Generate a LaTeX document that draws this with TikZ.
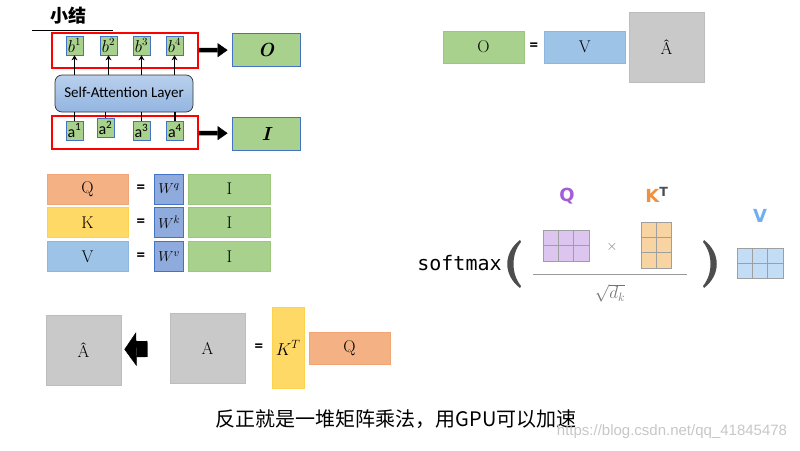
\documentclass[tikz,border=0pt]{standalone}
\usepackage{amsmath,amssymb}
\usepackage{fontspec}
\usepackage{xcolor}
\usepackage{tikz}
\usetikzlibrary{positioning,arrows.meta,calc}

\newfontfamily\cjkfont{Noto Sans CJK SC}
\newfontfamily\calibrifont{Carlito}
\newfontfamily\codefont{DejaVu Sans Mono}
\newfontfamily\labelfont{DejaVu Sans}
\newfontfamily\arialfont{Liberation Sans}

\definecolor{boxgreen}{HTML}{A9D18E}
\definecolor{edgegreen}{HTML}{9CC87E}
\definecolor{boxblue}{HTML}{9DC3E6}
\definecolor{edgeblue}{HTML}{8EB6E2}
\definecolor{boxgray}{HTML}{C9C9C9}
\definecolor{edgegray}{HTML}{BDBDBD}
\definecolor{boxorange}{HTML}{F4B183}
\definecolor{edgeorange}{HTML}{F2A475}
\definecolor{boxyellow}{HTML}{FFD966}
\definecolor{edgeyellow}{HTML}{FFD24D}
\definecolor{boxw}{HTML}{8FAADC}
\definecolor{msblue}{HTML}{4472C4}
\definecolor{layertop}{HTML}{B9D0EC}
\definecolor{layerbot}{HTML}{93B5E1}
\definecolor{matpurple}{HTML}{DCC6F0}
\definecolor{matorange}{HTML}{F8D4A2}
\definecolor{matblue}{HTML}{C3DDF7}
\definecolor{labpurple}{HTML}{A35DD6}
\definecolor{laborange}{HTML}{EE9140}
\definecolor{labblue}{HTML}{6FAEF0}
\definecolor{parengray}{HTML}{4D4D4D}

\begin{document}
\begin{tikzpicture}[x=1pt, y=-1pt,
    smallbox/.style={rectangle, draw=msblue, fill=boxgreen, line width=0.6pt, minimum width=17pt, minimum height=19pt, inner sep=0pt},
    redframe/.style={rectangle, draw=red, line width=1.6pt, minimum width=146pt, inner sep=0pt},
    layer/.style={rectangle, rounded corners=7pt, draw=black!80, line width=0.7pt, top color=layertop, bottom color=layerbot, minimum width=138pt, minimum height=37pt, font=\calibrifont\fontsize{15}{15}\selectfont},
    matbox/.style={rectangle, line width=0.8pt, inner sep=0pt, font=\fontsize{17}{17}\selectfont},
    greenbox/.style={matbox, draw=edgegreen, fill=boxgreen},
    bluebox/.style={matbox, draw=edgeblue, fill=boxblue},
    graybox/.style={matbox, draw=edgegray, fill=boxgray, minimum width=75pt, minimum height=70pt},
    orangebox/.style={matbox, draw=edgeorange, fill=boxorange},
    yellowbox/.style={matbox, draw=edgeyellow, fill=boxyellow},
    wbox/.style={matbox, draw=msblue, fill=boxw, minimum width=29pt, minimum height=30pt, font=\fontsize{15}{15}\selectfont},
    eqsign/.style={inner sep=0pt, font=\calibrifont\bfseries\fontsize{17}{17}\selectfont},
    grid/.style={rectangle, draw=gray!75, line width=0.7pt, inner sep=0pt},
    gridline/.style={draw=gray!75, line width=0.7pt},
    arrow/.style={-{Stealth[length=5pt,width=6pt]}, line width=1.3pt},
    link/.style={line width=1.3pt},
    bigarrow/.style={-{Triangle[length=10pt,width=14pt,line width=0.5pt]}, line width=4.5pt, shorten >=4pt},
    blockarrow/.style={-{Triangle[length=12pt,width=34pt,line width=0.5pt]}, line width=16pt, shorten <=22pt, shorten >=3pt}
]
    \useasboundingbox (0,0) rectangle (800,450);

    % Summary
    \node[font=\cjkfont\bfseries\fontsize{18}{18}\selectfont] (title) at (68,16) {小结};
    \draw[line width=1pt] (32,30) -- (113,30);

    % Outputs b
    \node[redframe, minimum height=35pt] (outframe) at (125,50.5) {};
    \node[smallbox, font=\fontsize{16}{16}\selectfont] (b1) at (74.5,45.5) {$b^1$};
    \node[smallbox, font=\fontsize{16}{16}\selectfont] (b2) at (108.5,45.5) {$b^2$};
    \node[smallbox, font=\fontsize{16}{16}\selectfont] (b3) at (141.5,45.5) {$b^3$};
    \node[smallbox, font=\fontsize{16}{16}\selectfont] (b4) at (174.5,45.5) {$b^4$};

    % Layer
    \node[layer] (layer) at (124,93.5) {Self-Attention Layer};

    % Inputs a
    \node[redframe, minimum height=33pt] (inframe) at (125,132.5) {};
    \node[smallbox, font=\calibrifont\fontsize{16}{16}\selectfont] (a1) at (74.5,130.5) {a\textsuperscript{1}};
    \node[smallbox, font=\calibrifont\fontsize{16}{16}\selectfont] (a2) at (105.5,128) {a\textsuperscript{2}};
    \node[smallbox, font=\calibrifont\fontsize{16}{16}\selectfont] (a3) at (141.5,131) {a\textsuperscript{3}};
    \node[smallbox, font=\calibrifont\fontsize{16}{16}\selectfont] (a4) at (175,131) {a\textsuperscript{4}};

    % O and I
    \node[greenbox, draw=msblue, minimum width=68pt, minimum height=33pt, font=\bfseries\itshape\fontsize{19}{19}\selectfont] (obig) at (266,50) {O};
    \node[greenbox, draw=msblue, minimum width=68pt, minimum height=33pt, font=\bfseries\itshape\fontsize{19}{19}\selectfont] (ibig) at (266,133.5) {I};

    % Arrows
    \draw[arrow] (layer.north -| b1) -- (b1);
    \draw[arrow] (layer.north -| b2) -- (b2);
    \draw[arrow] (layer.north -| b3) -- (b3);
    \draw[arrow] (layer.north -| b4) -- (b4);
    \draw[link] (a1) -- (layer.south -| a1);
    \draw[link] (a2) -- (layer.south -| a2);
    \draw[link] (a3) -- (layer.south -| a3);
    \draw[link] (a4) -- (layer.south -| a4);
    \draw[bigarrow] (outframe) -- (obig);
    \draw[bigarrow] (inframe) -- (ibig);

    % O = V Ahat
    \node[greenbox, minimum width=81pt, minimum height=32pt] (otop) at (483.5,47) {O};
    \node[eqsign, right=5pt of otop] (eqtop) {=};
    \node[bluebox, minimum width=81pt, minimum height=32pt, right=5.5pt of eqtop] (vtop) {V};
    \node[graybox, right=3pt of vtop] (ahattop) {Â};

    % Q K V
    \node[orangebox, minimum width=81pt, minimum height=30pt] (q) at (87.5,189) {Q};
    \node[eqsign, right=8pt of q] (eqq) {=};
    \node[wbox, right=9pt of eqq] (wq) {$W^q$};
    \node[greenbox, minimum width=82pt, minimum height=30pt, right=4pt of wq] (iq) {I};

    \node[yellowbox, minimum width=81pt, minimum height=30pt] (k) at (87.5,222.5) {K};
    \node[eqsign, right=8pt of k] (eqk) {=};
    \node[wbox, right=9pt of eqk] (wk) {$W^k$};
    \node[greenbox, minimum width=82pt, minimum height=30pt, right=4pt of wk] (ik) {I};

    \node[bluebox, minimum width=81pt, minimum height=30pt] (v) at (87.5,256.5) {V};
    \node[eqsign, right=8pt of v] (eqv) {=};
    \node[wbox, right=9pt of eqv] (wv) {$W^v$};
    \node[greenbox, minimum width=82pt, minimum height=30pt, right=4pt of wv] (iv) {I};

    % softmax
    \node[font=\codefont\fontsize{20}{20}\selectfont] (softmax) at (459.5,263) {softmax};
    \fill[parengray] (520,240) .. controls (503,253) and (503,275) .. (520,288)
        -- (521,286) .. controls (511,274) and (511,254) .. (521,242) -- cycle;
    \fill[parengray] (704,240) .. controls (721,253) and (721,275) .. (704,288)
        -- (703,286) .. controls (713,274) and (713,254) .. (703,242) -- cycle;

    \node[grid, fill=matpurple, minimum width=46pt, minimum height=31pt] (qmat) at (566,245.5) {};
    \draw[gridline] ($(qmat.north west)!1/3!(qmat.north east)$) -- ($(qmat.south west)!1/3!(qmat.south east)$);
    \draw[gridline] ($(qmat.north west)!2/3!(qmat.north east)$) -- ($(qmat.south west)!2/3!(qmat.south east)$);
    \draw[gridline] (qmat.west) -- (qmat.east);
    \node[font=\labelfont\bfseries\fontsize{18}{18}\selectfont, text=labpurple] (qlab) at (567,196) {Q};

    \node[text=gray, font=\fontsize{14}{14}\selectfont] (times) at (612,247) {$\times$};

    \node[grid, fill=matorange, minimum width=30pt, minimum height=46pt] (ktmat) at (656,245) {};
    \draw[gridline] (ktmat.north) -- (ktmat.south);
    \draw[gridline] ($(ktmat.north west)!1/3!(ktmat.south west)$) -- ($(ktmat.north east)!1/3!(ktmat.south east)$);
    \draw[gridline] ($(ktmat.north west)!2/3!(ktmat.south west)$) -- ($(ktmat.north east)!2/3!(ktmat.south east)$);
    \node[font=\labelfont\bfseries\fontsize{18}{18}\selectfont, text=laborange] (ktlab) at (657,195) {K\textsuperscript{\textcolor{parengray}{T}}};

    \draw[gray!80, line width=0.9pt] (533,274) -- (687,274);
    \node[text=gray!90!black, font=\fontsize{18}{18}\selectfont] (sqrtdk) at (610,293) {$\sqrt{d_k}$};

    \node[grid, fill=matblue, minimum width=46pt, minimum height=30pt] (vmat) at (760,263) {};
    \draw[gridline] ($(vmat.north west)!1/3!(vmat.north east)$) -- ($(vmat.south west)!1/3!(vmat.south east)$);
    \draw[gridline] ($(vmat.north west)!2/3!(vmat.north east)$) -- ($(vmat.south west)!2/3!(vmat.south east)$);
    \draw[gridline] (vmat.west) -- (vmat.east);
    \node[font=\labelfont\bfseries\fontsize{18}{18}\selectfont, text=labblue] (vlab) at (760,216) {V};

    % Ahat <- A = K^T Q
    \node[graybox] (ahat) at (83.5,350) {Â};
    \node[graybox] (amat) at (207.5,348) {A};
    \node[eqsign, right=9pt of amat] (eqa) {=};
    \node[yellowbox, minimum width=32pt, minimum height=81pt, right=8.5pt of eqa] (kt) {$K^T$};
    \node[orangebox, minimum width=81pt, minimum height=32pt, right=4pt of kt] (qbot) {Q};
    \draw[blockarrow] (amat) -- (ahat);

    % Note
    \node[font=\cjkfont\fontsize{20}{20}\selectfont] (note) at (396,419) {反正就是一堆矩阵乘法，用GPU可以加速};
    \node[text=black!22, font=\arialfont\fontsize{15}{15}\selectfont] (mark) at (672,432) {https://blog.csdn.net/qq\_41845478};
\end{tikzpicture}
\end{document}
